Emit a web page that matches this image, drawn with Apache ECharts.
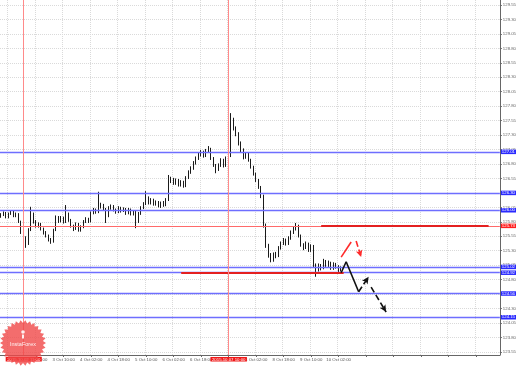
<!DOCTYPE html>
<html><head><meta charset="utf-8">
<script src="https://cdn.jsdelivr.net/npm/echarts@6/dist/echarts.min.js"></script>
<style>html,body{margin:0;padding:0;background:#fff}#c{width:519px;height:366px}</style>
</head><body><div id="c"></div>
<script>
// ---- data ----
const nSlots = 200;                 // bar slots on the time axis (incl. empty future space)
const firstTickIndex = 14;
const tickStep = 11;
const tickLabels = ['2 Oct 18:00','3 Oct 10:00','4 Oct 02:00','4 Oct 18:00','5 Oct 10:00','6 Oct 02:00',
  '6 Oct 18:00','7 Oct 10:00','8 Oct 02:00','8 Oct 18:00','9 Oct 10:00','10 Oct 02:00'];
const priceTicks = [123.55,123.80,124.05,124.30,124.55,124.80,125.05,125.30,125.55,125.80,126.05,126.30,
  126.55,126.80,127.05,127.30,127.55,127.80,128.05,128.30,128.55,128.80,129.05,129.30,129.55];
// [open, close, low, high]
const ohlc = [
[125.90,125.92,125.87,125.95],[125.92,125.95,125.90,125.98],[125.95,125.88,125.86,125.97],[125.88,125.94,125.86,125.96],
[125.94,125.97,125.92,126.00],[125.97,125.90,125.88,125.99],[125.90,125.94,125.88,125.96],[125.94,125.80,125.78,125.95],
[125.80,125.62,125.59,125.82],[125.62,125.52,125.31,125.64],[125.52,125.42,125.35,125.55],[125.42,125.66,125.40,125.69],
[125.66,125.94,125.64,126.06],[125.94,125.80,125.77,125.96],[125.80,125.73,125.70,125.83],[125.73,125.76,125.70,125.79],
[125.76,125.68,125.65,125.78],[125.68,125.61,125.58,125.70],[125.61,125.56,125.53,125.64],[125.56,125.49,125.46,125.58],
[125.49,125.45,125.42,125.52],[125.45,125.66,125.44,125.68],[125.66,125.88,125.64,125.91],[125.88,125.81,125.78,125.90],
[125.81,125.87,125.79,125.90],[125.87,125.80,125.77,125.89],[125.80,125.94,125.78,126.09],[125.94,125.83,125.80,125.96],
[125.83,125.73,125.70,125.85],[125.73,125.68,125.64,125.75],[125.68,125.76,125.66,125.79],[125.76,125.66,125.63,125.78],
[125.66,125.71,125.63,125.74],[125.71,125.80,125.69,125.83],[125.80,125.85,125.78,125.88],[125.85,125.81,125.78,125.87],
[125.81,125.95,125.79,125.98],[125.95,126.01,125.93,126.04],[126.01,125.97,125.94,126.03],[125.97,126.06,125.95,126.32],
[126.06,126.09,126.03,126.13],[126.09,126.02,125.99,126.11],[126.02,125.90,125.78,126.04],[125.90,126.04,125.88,126.07],
[126.04,126.07,126.01,126.10],[126.07,126.01,125.98,126.09],[126.01,125.97,125.94,126.03],[125.97,126.04,125.95,126.07],
[126.04,125.99,125.96,126.06],[125.99,126.02,125.97,126.05],[126.02,125.95,125.92,126.04],[125.95,126.01,125.93,126.04],
[126.01,125.94,125.91,126.03],[125.94,125.97,125.91,126.00],[125.97,125.80,125.69,125.99],[125.80,125.94,125.78,125.97],
[125.94,126.04,125.92,126.07],[126.04,126.11,126.02,126.14],[126.11,126.21,126.09,126.33],[126.21,126.13,126.10,126.24],
[126.13,126.18,126.10,126.21],[126.18,126.11,126.08,126.20],[126.11,126.14,126.08,126.17],[126.14,126.07,126.05,126.16],
[126.07,126.13,126.04,126.15],[126.13,126.09,126.06,126.16],[126.09,126.18,126.07,126.21],[126.18,126.51,126.16,126.61],
[126.51,126.54,126.47,126.58],[126.54,126.47,126.44,126.56],[126.47,126.52,126.44,126.55],[126.52,126.44,126.41,126.54],
[126.44,126.49,126.41,126.52],[126.49,126.42,126.39,126.51],[126.42,126.56,126.40,126.59],[126.56,126.66,126.54,126.69],
[126.66,126.73,126.63,126.76],[126.73,126.82,126.70,126.85],[126.82,126.90,126.79,126.93],[126.90,126.96,126.87,126.99],
[126.96,127.01,126.93,127.04],[127.01,126.94,126.91,127.03],[126.94,127.03,126.92,127.06],[127.03,127.06,127.00,127.11],
[127.06,126.90,126.87,127.08],[126.90,126.78,126.75,126.92],[126.78,126.70,126.64,126.80],[126.70,126.78,126.68,126.81],
[126.78,126.87,126.75,126.90],[126.87,126.77,126.74,126.89],[126.77,126.90,126.75,126.93],[126.90,126.94,126.87,126.97],
[126.94,127.56,126.92,127.68],[127.56,127.42,127.38,127.60],[127.42,127.32,127.28,127.45],[127.32,127.16,127.12,127.35],
[127.16,127.04,127.00,127.19],[127.04,126.92,126.88,127.07],[126.92,126.96,126.89,126.99],[126.96,126.87,126.84,126.99],
[126.87,126.75,126.72,126.89],[126.75,126.63,126.60,126.77],[126.63,126.52,126.49,126.65],[126.52,126.40,126.37,126.54],
[126.40,126.25,126.21,126.42],[126.25,125.75,125.70,126.27],[125.75,125.40,125.35,125.77],[125.40,125.23,125.18,125.42],
[125.23,125.14,125.10,125.26],[125.14,125.24,125.11,125.27],[125.24,125.21,125.17,125.28],[125.21,125.35,125.19,125.38],
[125.35,125.43,125.32,125.46],[125.43,125.49,125.40,125.52],[125.49,125.42,125.39,125.51],[125.42,125.52,125.40,125.55],
[125.52,125.62,125.49,125.65],[125.62,125.68,125.59,125.71],[125.68,125.73,125.65,125.78],[125.73,125.56,125.53,125.75],
[125.56,125.40,125.37,125.58],[125.40,125.35,125.31,125.43],[125.35,125.42,125.33,125.46],[125.42,125.31,125.28,125.44],
[125.31,125.38,125.28,125.41],[125.38,125.05,125.01,125.40],[125.05,124.97,124.85,125.08],[124.97,125.04,124.94,125.08],
[125.04,125.00,124.96,125.07],[125.00,125.11,124.98,125.16],[125.11,125.05,125.02,125.14],[125.05,125.09,125.02,125.13],
[125.09,125.00,124.97,125.11],[125.00,125.07,124.97,125.10],[125.07,125.02,124.99,125.09],[125.02,124.97,124.93,125.05],
[124.97,125.00,124.94,125.03]
];
const blueLevels = [127.01, 126.30, 126.00, 125.02, 124.92, 124.56, 124.15];
const redLevel = 125.73;
const redSegments = [[128, 195, 125.73], [72, 137, 124.92]];   // [fromIndex, toIndex, price]
const redTimeIdx = [9, 91];
const redTimeLabels = ['2015.10.02 11:00', '2015.10.07 10:00'];
// hand-drawn forecast arrows: [index, price]
const blackSolid = [[136, 124.92], [138, 125.11], [143, 124.59]];
const blackDash1 = [[143, 124.59], [147, 124.85]];
const blackDash2 = [[148.4, 124.67], [153.6, 124.24]];
const redUp = [[136.4, 125.19], [139.6, 125.45]];
const redDown = [[142, 125.47], [144, 125.19]];

// ---- build ----
const categories = [];
for (let i = 0; i < nSlots; i++) {
  const k = (i - firstTickIndex) / tickStep;
  categories.push(Number.isInteger(k) && k >= 0 && k < tickLabels.length ? tickLabels[k] : '');
}
const FONT = 'Liberation Sans';
const ml = [];
blueLevels.forEach(v => ml.push({
  yAxis: v, lineStyle: {color: '#6e6eff', width: 1.3, type: 'solid'},
  label: {show: true, position: 'end', distance: 1, formatter: v.toFixed(2), color: '#fff',
    backgroundColor: '#2a2aff', padding: [0.5, 1, 0, 1], fontSize: 4.3, fontFamily: FONT}
}));
ml.push({
  yAxis: redLevel, lineStyle: {color: '#ff6a6a', width: 1, type: 'solid'},
  label: {show: true, position: 'end', distance: 1, formatter: redLevel.toFixed(2), color: '#fff',
    backgroundColor: '#ff2020', padding: [0.5, 1, 0, 1], fontSize: 4.3, fontFamily: FONT}
});
redSegments.forEach(s => ml.push([
  {coord: [s[0], s[2]], lineStyle: {color: '#e42020', width: 2, type: 'solid'}},
  {coord: [s[1], s[2]]}
]));
redTimeIdx.forEach((ix, j) => ml.push({
  xAxis: ix, lineStyle: {color: '#ff8a8a', width: 1, type: 'solid'},
  label: {show: true, position: 'start', distance: 2, formatter: redTimeLabels[j], color: '#fff',
    backgroundColor: '#f01818', padding: [0.5, 1.5, 0, 1.5], fontSize: 4.3, fontFamily: FONT}
}));
function seg(path, color, type, arrowLast) {
  for (let i = 0; i < path.length - 1; i++) {
    const end = {coord: path[i + 1]};
    if (arrowLast && i === path.length - 2) { end.symbol = 'arrow'; end.symbolSize = [5, 7]; }
    ml.push([{coord: path[i], lineStyle: {color: color, width: 1.6, type: type}}, end]);
  }
}
seg(blackSolid, '#111', 'solid', false);
seg(blackDash1, '#111', [6, 3], true);
seg(blackDash2, '#111', [6, 3], true);
seg(redUp, '#ff2a2a', 'solid', false);
seg(redDown, '#ff2a2a', [6, 3], true);

const tickFn = i => i >= firstTickIndex && (i - firstTickIndex) % tickStep === 0;
const gridFn = i => i >= 3 && (i - 3) % tickStep === 0;

// watermark logo (decoration)
const logoPts = [];
const teeth = 30, cx = 23, cy = 343;
for (let t = 0; t < teeth * 2; t++) {
  const a = Math.PI * t / teeth, r = t % 2 ? 20 : 23;
  logoPts.push([cx + r * Math.cos(a), cy + r * Math.sin(a)]);
}

const chart = echarts.init(document.getElementById('c'), null, {renderer: 'canvas'});
chart.setOption({
  animation: false,
  backgroundColor: '#ffffff',
  grid: {left: 0, right: 18, top: 0, bottom: 11},
  xAxis: {
    type: 'category', data: categories, boundaryGap: true,
    axisLine: {show: true, lineStyle: {color: '#666'}},
    axisTick: {show: true, length: 2, interval: tickFn, alignWithLabel: true, lineStyle: {color: '#666'}},
    axisLabel: {interval: tickFn, fontSize: 4.3, color: '#555', margin: 3, fontFamily: FONT},
    splitLine: {show: true, interval: gridFn, lineStyle: {color: '#dadada', type: 'dotted'}}
  },
  yAxis: {
    type: 'value', position: 'right', min: 123.497, max: 129.636,
    axisLine: {show: true, lineStyle: {color: '#666'}},
    axisTick: {show: true, length: 2, customValues: priceTicks, lineStyle: {color: '#666'}},
    axisLabel: {customValues: priceTicks, formatter: v => v.toFixed(2), fontSize: 4.3, color: '#666', margin: 3, fontFamily: FONT},
    splitLine: {show: true, lineStyle: {color: '#dadada', type: 'dotted'}}
  },
  series: [{
    type: 'candlestick', data: ohlc, barMaxWidth: 2,
    itemStyle: {color: '#ffffff', color0: '#1a1a1a', borderColor: '#1a1a1a', borderColor0: '#1a1a1a', borderWidth: 1},
    markLine: {silent: true, animation: false, symbol: ['none', 'none'], label: {show: false}, data: ml}
  }],
  graphic: [
    {type: 'polygon', shape: {points: logoPts}, style: {fill: 'rgba(240,72,72,0.8)'}, z: 100},
    {type: 'circle', shape: {cx: 23, cy: 332, r: 1.8}, style: {fill: 'rgba(255,255,255,0.9)'}, z: 101},
    {type: 'rect', shape: {x: 22, y: 334.5, width: 2, height: 4}, style: {fill: 'rgba(255,255,255,0.9)'}, z: 101},
    {type: 'text', x: 23, y: 344, style: {text: 'InstaForex', fill: 'rgba(255,255,255,0.9)', fontSize: 5.5,
      fontFamily: FONT, align: 'center', verticalAlign: 'middle'}, z: 101}
  ]
});
</script></body></html>
